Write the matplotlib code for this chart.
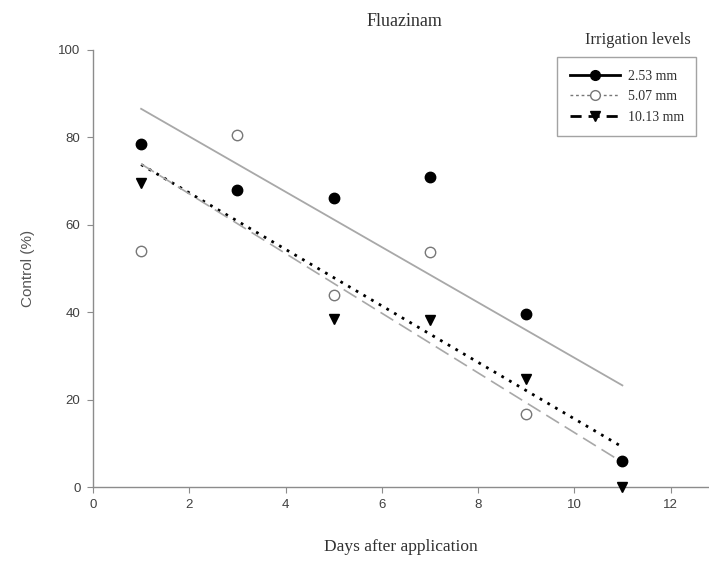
import numpy as np
import matplotlib
matplotlib.use('Agg')
import matplotlib.pyplot as plt
from matplotlib.lines import Line2D

# days after application
days = np.array([1, 3, 5, 7, 9, 11])

# control (%) for each irrigation level
ctrl_253 = np.array([78.6, 68.0, 66.1, 71.0, 39.7, 6.0])
ctrl_507 = np.array([54.1, 80.5, 43.9, 53.7, 16.6, 0.0])
ctrl_1013 = np.array([69.5, 68.0, 38.4, 38.2, 24.6, 0.0])

labels = ['2.53 mm', '5.07 mm', '10.13 mm']

serif = 'Liberation Serif'
sans = 'Liberation Sans'
grey = '#8c8c8c'

fig = plt.figure(figsize=(7.09, 5.65), dpi=100)
ax = fig.add_axes([93 / 709, 78 / 565, 616 / 709, 437 / 565])

# linear fits over the sampled days
xfit = np.array([days.min(), days.max()])
fit_styles = [
    dict(color='#a8a8a8', lw=1.3, ls='-'),
    dict(color='black', lw=2.0, ls=(0, (1, 2.2))),
    dict(color='#a8a8a8', lw=1.2, ls=(0, (9, 4))),
]
for yv, st in zip([ctrl_253, ctrl_507, ctrl_1013], fit_styles):
    k, b = np.polyfit(days, yv, 1)
    ax.plot(xfit, k * xfit + b, **st, zorder=2)

# points that sit exactly under another marker are not drawn on their own
show_1013 = ~np.isclose(ctrl_1013, ctrl_253)
show_507 = ~np.isclose(ctrl_507, ctrl_1013)

ax.plot(days, ctrl_507, 'o', mfc='white', mec='#777777', mew=1.0, ms=7.5, ls='none',
        markevery=list(show_507), zorder=3, clip_on=False)
ax.plot(days, ctrl_1013, 'v', color='black', ms=7.5, ls='none',
        markevery=list(show_1013), zorder=4, clip_on=False)
ax.plot(days, ctrl_253, 'o', color='black', ms=7.5, ls='none', zorder=5, clip_on=False)

ax.set_xlim(0, 12.8)
ax.set_ylim(0, 100)
ax.set_xticks(np.arange(0, 13, 2))
ax.set_yticks(np.arange(0, 101, 20))

for s in ['top', 'right']:
    ax.spines[s].set_visible(False)
for s in ['left', 'bottom']:
    ax.spines[s].set_color(grey)
    ax.spines[s].set_linewidth(1.0)
ax.tick_params(direction='out', length=4, width=0.8, color=grey,
               labelcolor='#404040', labelsize=9.5, pad=5)
for lab in ax.get_xticklabels() + ax.get_yticklabels():
    lab.set_family(sans)

ax.set_xlabel('Days after application', family=serif, fontsize=12.5,
              color='#303030', labelpad=20)
ax.set_ylabel('Control (%)', family=sans, fontsize=11, color='#555555', labelpad=17)
fig.text(404 / 709, 1 - 22 / 565, 'Fluazinam', family=serif, fontsize=13,
         color='#303030', ha='center', va='center')

handles = [
    Line2D([], [], color='black', lw=2.0, ls='-', marker='o', ms=7, mfc='black'),
    Line2D([], [], color='#777777', lw=1.0, ls=(0, (2, 2)), marker='o', ms=7,
           mfc='white', mec='#777777'),
    Line2D([], [], color='black', lw=2.0, ls=(0, (4, 2.5)), marker='v', ms=7, mfc='black'),
]
leg = ax.legend(handles, labels, loc='upper left',
                bbox_to_anchor=(557 / 709, 1 - 57 / 565),
                bbox_transform=fig.transFigure, frameon=True, fancybox=False,
                handlelength=3.6, handletextpad=0.6, borderpad=0.9,
                labelspacing=0.55, borderaxespad=0,
                prop={'family': serif, 'size': 10})
leg.get_frame().set_edgecolor(grey)
leg.get_frame().set_linewidth(1.0)
for t in leg.get_texts():
    t.set_color('#303030')
fig.text(638 / 709, 1 - 40 / 565, 'Irrigation levels', family=serif, fontsize=12,
         color='#303030', ha='center', va='center')

fig.savefig('out.png', dpi=100)
